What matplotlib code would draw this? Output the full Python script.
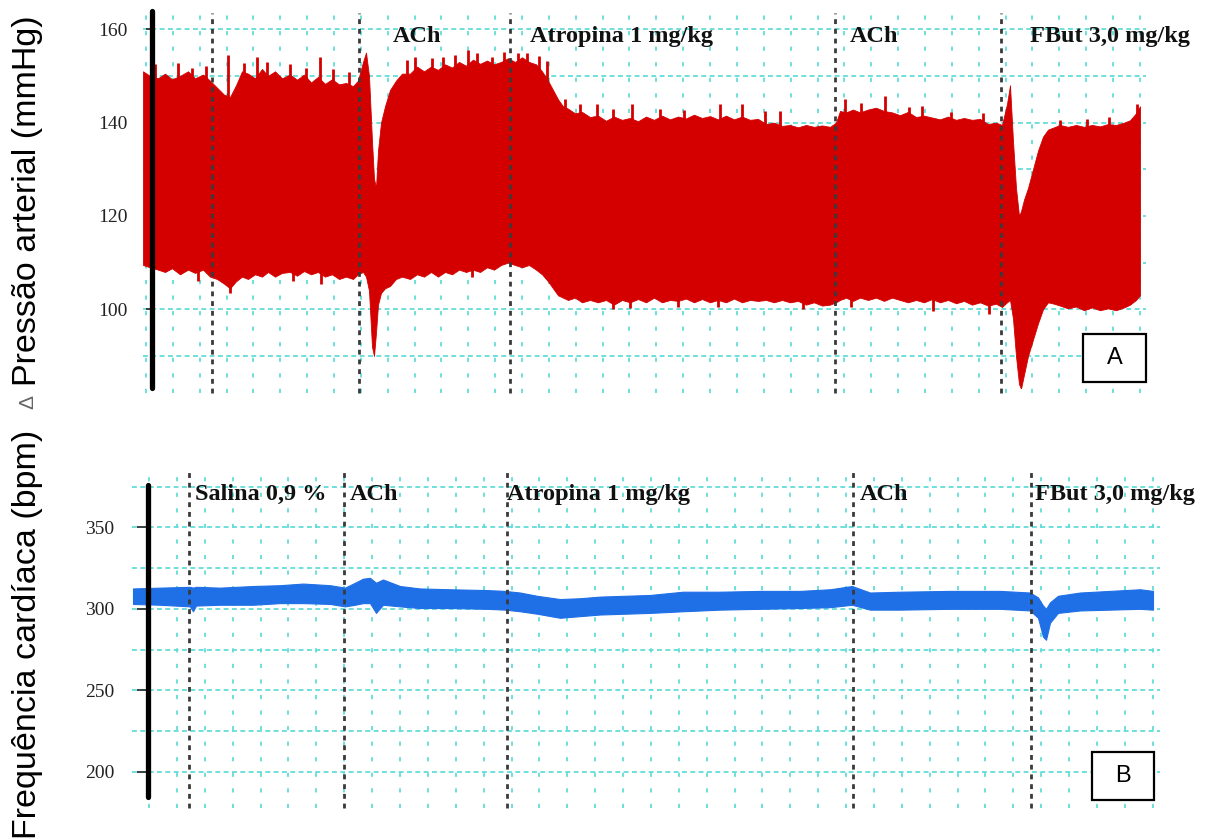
import matplotlib
matplotlib.use("Agg")
import matplotlib.pyplot as plt
import numpy as np
from matplotlib.patches import Rectangle

plt.rcParams["lines.scale_dashes"] = False
plt.rcParams["font.family"] = ["Liberation Serif", "DejaVu Serif"]

# ---------------- data ----------------
# Arterial pressure trace: systolic / diastolic envelope (mmHg) over recording time
bp_time = [0, 7, 15, 22, 29, 37, 45, 52, 60, 67, 74, 81, 87, 93, 99, 105, 112, 119, 125, 132,
           139, 147, 154, 161, 168, 175, 182, 189, 196, 203, 210, 215, 220, 223, 226, 229, 231,
           233, 235, 238, 242, 247, 253, 259, 267, 274, 281, 288, 295, 302, 309, 316, 323, 330,
           337, 344, 351, 358, 365, 372, 379, 386, 393, 399, 405, 410, 415, 420, 425, 432, 439,
           447, 455, 463, 471, 479, 487, 495, 503, 511, 519, 527, 535, 543, 551, 559, 567, 575,
           583, 591, 599, 607, 615, 623, 631, 639, 647, 655, 663, 671, 679, 687, 693, 697, 703,
           710, 717, 725, 733, 741, 749, 757, 765, 773, 781, 789, 797, 805, 813, 821, 829, 837,
           845, 853, 859, 864, 867, 870, 873, 876, 878, 881, 885, 890, 895, 900, 905, 911, 917,
           925, 933, 941, 949, 957, 965, 973, 981, 987, 993, 997]
bp_systolic = [151, 150, 149.5, 150.5, 149.3, 150, 151, 149.5, 150.3, 149, 147.5, 146, 145.5, 148,
               151, 150.5, 149.5, 151.5, 150, 151, 149.5, 150.3, 149.2, 150.3, 148.6, 149.8, 148.3,
               149.3, 148.2, 148.5, 147.8, 149, 153, 155, 150, 136, 128, 126, 134, 140, 143.5,
               147, 149, 150.5, 150.5, 152, 151, 152, 151.3, 152.5, 151.8, 153, 152.2, 153.5, 152.6,
               153.3, 152.5, 153, 153.8, 153, 154, 153, 152.5, 151, 149, 147, 145, 143.5, 143,
               142, 142.3, 141.2, 141.5, 140.4, 141.3, 140.6, 141, 140.3, 141.3, 140.6, 141.5, 140.7,
               141.3, 140.9, 141.7, 141, 141.4, 140.7, 141.5, 140.7, 141.3, 140.6, 140.8, 139.7,
               140, 139.3, 139.5, 139, 139.5, 139.1, 139.4, 139.1, 140, 142.5, 142.2, 142.8, 142.2,
               142.8, 143.2, 142.5, 142.2, 141.6, 142.3, 141.2, 141.5, 141.1, 140.7, 141.3, 140.6,
               141, 140.6, 140.8, 139.7, 140, 139.5, 144, 148, 136, 126, 120, 121, 123.5, 126, 130,
               134, 137, 138.5, 139, 139.5, 139.1, 139.5, 139.1, 139.5, 139.2, 139.7, 139.5, 140,
               140.5, 142, 143.5]
bp_diastolic = [109.5, 109, 108.5, 108, 108.8, 107.5, 108.5, 107.8, 108.5, 107, 106.5, 105.5,
                104.5, 106, 107, 106.5, 107.5, 107, 108, 107, 107.8, 108, 107.2, 108.2, 107.5,
                108, 107, 107.5, 106.5, 107, 106.5, 107.5, 108, 107, 104, 92, 90, 95, 101, 103.5,
                104.5, 105, 106.5, 107, 106.5, 107.5, 107, 108, 107, 108, 107.5, 108.5, 108,
                108.5, 108, 109, 108.5, 109.5, 110, 109.5, 109, 109.5, 108.5, 107.5, 106, 104.5,
                103, 102.5, 102, 102.5, 101.5, 102, 101.5, 102, 101, 102, 101.5, 102.2, 101.5,
                102.5, 101.5, 102, 101.8, 102.3, 101.5, 102.2, 101.5, 102, 101.5, 102.3, 101.5,
                102, 101.8, 102, 101.5, 102, 101.5, 101.8, 101, 101.5, 100.8, 101, 101.5, 102,
                102.5, 101.8, 102.5, 102, 102.5, 101.8, 102.5, 102, 101.5, 102, 101.5, 102.2,
                101.5, 102, 101.3, 101.8, 101, 101.5, 100.8, 101.2, 100.5, 101.5, 102, 98, 90,
                84, 83, 86, 90, 93.5, 97, 100, 101.5, 101.2, 100.8, 100.2, 100.6, 99.8, 100.4,
                99.8, 100.2, 99.8, 100.4, 101, 102, 103]

# Individual systolic peaks standing above the envelope
bp_peak_time = [12, 35, 49, 63, 85, 101, 114, 124, 147, 163, 177, 190, 206, 264, 272, 289, 300,
                312, 325, 334, 349, 361, 375, 384, 396, 404, 422, 437, 454, 470, 489, 517, 541,
                577, 599, 622, 637, 702, 718, 742, 766, 779, 808, 840, 917, 944, 966, 994]
bp_peak_value = [152.5, 152.8, 151.7, 152.2, 154.5, 152.8, 154, 153, 152.5, 151.8, 154, 151.5,
                 150.8, 153.5, 154, 153.8, 154, 154.5, 155.6, 155, 154, 155.2, 155, 155, 154.2,
                 153.2, 145, 144, 143.9, 142.9, 143.9, 143, 142.8, 143.9, 143.9, 142.6, 142.6,
                 145, 144.2, 145.6, 143.3, 143.5, 142.3, 142, 140.6, 140.8, 141.2, 144]
# Individual diastolic troughs reaching below the envelope
bp_trough_time = [55, 87, 150, 178, 329, 470, 487, 535, 575, 660, 708, 790, 846]
bp_trough_value = [106, 103.5, 106, 105.5, 107, 100, 100.2, 100.5, 100.4, 100.1, 100.5, 99.6, 99]

# Heart-rate trace: upper / lower edge of the band (bpm)
hr_time = [-10, 17, 47, 50, 53, 77, 110, 137, 160, 187, 202, 212, 220, 227, 233, 240, 257, 277,
           307, 344, 362, 377, 394, 417, 437, 457, 507, 540, 577, 617, 657, 687, 709, 727, 757,
           807, 857, 887, 895, 900, 903, 907, 915, 937, 967, 997, 1010]
hr_upper = [312.5, 313, 313.5, 313, 313.5, 313, 314, 314.5, 315.5, 314.5, 313, 316, 318.5, 319,
            316, 318, 314, 312.5, 312, 311.5, 311, 310, 308, 306, 306.5, 307.5, 308.5, 310.5,
            310.5, 311, 311, 312, 314, 310, 310.5, 311, 311, 310, 307, 302, 300, 304, 308, 310,
            311, 312, 311]
hr_lower = [303, 302.5, 301.5, 298.5, 302, 302.5, 302.5, 303.5, 303.5, 303, 301.5, 302.5, 303.5,
            303.5, 297.5, 302.5, 301.5, 300.5, 300.5, 300, 299.5, 298.5, 297, 294.5, 295.5, 296.5,
            297.5, 298.5, 299.5, 300, 300.5, 301, 302.5, 299.5, 299.5, 300, 300, 299, 294.5, 283,
            281, 291.5, 297.5, 299, 299.5, 300, 299.5]

# Drug administration marks and their labels
bp_events = [69, 216, 367, 692, 858]
bp_labels = ["ACh", "Atropina 1 mg/kg", "ACh", "FBut 3,0 mg/kg"]
bp_label_x = [250, 387, 707, 887]
hr_events = [46, 201, 364, 710, 888]
hr_labels = ["Salina 0,9 %", "ACh", "Atropina 1 mg/kg", "ACh", "FBut 3,0 mg/kg"]
hr_label_x = [52, 207, 364, 717, 892]

bp_ticks = [100, 120, 140, 160]
hr_ticks = [200, 250, 300, 350]

# ---------------- figure ----------------
W, H = 1212, 839
fig = plt.figure(figsize=(W / 100, H / 100), dpi=100)


def px_rect(x0, x1, y0, y1):
    return [x0 / W, 1 - y1 / H, (x1 - x0) / W, (y1 - y0) / H]


GRID = "#62dcd8"
EVENT = "#3a3a3a"
RED = "#d40000"
BLUE = "#1f6fe6"

ax1 = fig.add_axes(px_rect(130, 1160, 11, 388))
ax2 = fig.add_axes(px_rect(125, 1165, 485, 797))

ax1.set_xlim(-13, 1017)
ax1.set_ylim(83.14, 163.92)
ax2.set_xlim(-18, 1022)
ax2.set_ylim(184.5, 376)


def chart_grid(ax, xs, ys, xspan, yfrac):
    for y in ys:
        ax.plot(xspan, [y, y], color=GRID, lw=1.3, ls=(0, (3.5, 2.5)), zorder=0.5)
    tr = ax.get_xaxis_transform()
    for x in xs:
        ax.plot([x, x], yfrac, transform=tr, color=GRID, lw=1.3, ls=(0, (3, 8.2)),
                clip_on=False, zorder=0.5)


chart_grid(ax1, np.arange(3, 998, 26.86), np.arange(90, 161, 10), [0, 1003], [-0.013, 0.995])
chart_grid(ax2, np.arange(6.1, 1011, 27.88), np.arange(200, 376, 25), [-11, 1017], [-0.035, 1.048])

# traces
ax1.fill_between(bp_time, bp_diastolic, bp_systolic, color=RED, lw=0.6, edgecolor=RED, zorder=2)
sys_at_peak = np.interp(bp_peak_time, bp_time, bp_systolic)
ax1.vlines(bp_peak_time, sys_at_peak - 1, bp_peak_value, color=RED, lw=2.0, zorder=2)
dia_at_trough = np.interp(bp_trough_time, bp_time, bp_diastolic)
ax1.vlines(bp_trough_time, bp_trough_value, dia_at_trough + 1, color=RED, lw=2.0, zorder=2)
ax2.fill_between(hr_time, hr_lower, hr_upper, color=BLUE, lw=0.8, edgecolor=BLUE, zorder=2)

# event markers
for ax, evs, yfrac in ((ax1, bp_events, [-0.013, 0.995]), (ax2, hr_events, [-0.035, 1.048])):
    tr = ax.get_xaxis_transform()
    for x in evs:
        ax.plot([x, x], yfrac, transform=tr, color=EVENT, lw=2.0, ls=(0, (3.5, 3.5)),
                clip_on=False, zorder=3)

for x, s in zip(bp_label_x, bp_labels):
    ax1.text(x, 157.3, s, fontsize=17.5, fontweight="bold", va="baseline", ha="left",
             color="#111111", zorder=4)
for x, s in zip(hr_label_x, hr_labels):
    ax2.text(x, 366.8, s, fontsize=17.5, fontweight="bold", va="baseline", ha="left",
             color="#111111", zorder=4)

# axes styling
for ax, spine_x, ticks, pad, length in ((ax1, 9, bp_ticks, 13.5, 4.0),
                                         (ax2, 5, hr_ticks, 16.0, 8.0)):
    ax.set_facecolor("none")
    for side in ("top", "right", "bottom"):
        ax.spines[side].set_visible(False)
    sp = ax.spines["left"]
    sp.set_position(("data", spine_x))
    sp.set_linewidth(3.8)
    sp.set_capstyle("round")
    sp.set_zorder(5)
    ax.set_xticks([])
    ax.set_yticks(ticks)
    ax.tick_params(axis="y", length=length, width=1.3, pad=pad, labelsize=14,
                   color="#333333", labelcolor="#222222")

# axis titles
sans = ["Liberation Sans", "DejaVu Sans"]
fig.text(28 / W, 1 - 201 / H, "Pressão arterial (mmHg)", rotation=90, ha="center",
         va="center", fontsize=24.5, family=sans)
fig.text(28 / W, 1 - 402 / H, "Δ", rotation=90, ha="center", va="center", fontsize=15,
         family=sans, color="#666666")
fig.text(28 / W, 1 - 634 / H, "Frequência cardíaca (bpm)", rotation=90, ha="center",
         va="center", fontsize=24.5, family=sans)

# panel letters
for (x0, x1, y0, y1), letter in (((1083, 1146, 334, 382), "A"), ((1092, 1154, 752, 800), "B")):
    fig.add_artist(Rectangle((x0 / W, 1 - y1 / H), (x1 - x0) / W, (y1 - y0) / H,
                             transform=fig.transFigure, facecolor="white", edgecolor="black",
                             lw=1.6, zorder=6))
    fig.text((x0 + x1) / 2 / W, 1 - (y0 + y1) / 2 / H, letter, ha="center", va="center",
             fontsize=17, family=sans, zorder=7)

fig.savefig("out.png", dpi=100)
